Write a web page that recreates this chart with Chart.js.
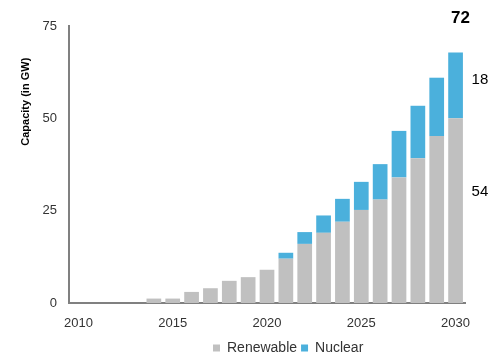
<!DOCTYPE html>
<html lang="en">
<head>
    <meta charset="UTF-8">
    <title>Capacity (in GW)</title>
    <style>
        body {
            margin: 0;
            padding: 0;
            background-color: #fff;
        }

        .chart-container {
            width: 500px;
            height: 360px;
        }
    </style>
    <script src="https://cdn.jsdelivr.net/npm/chart.js"></script>
</head>
<body>

<div class="chart-container">
    <canvas id="capacityChart"></canvas>
</div>

<script>
    // Data
    const years = ['2010', '2011', '2012', '2013', '2014', '2015', '2016', '2017', '2018', '2019', '2020',
                   '2021', '2022', '2023', '2024', '2025', '2026', '2027', '2028', '2029', '2030'];
    const renewable = [0, 0, 0, 0, 1.2, 1.2, 3, 4, 6, 7, 9, 12, 16, 19, 22, 25.2, 28, 34, 39.2, 45.2, 50];
    const nuclear = [0, 0, 0, 0, 0, 0, 0, 0, 0, 0, 0, 1.6, 3.2, 4.7, 6.2, 7.6, 9.6, 12.6, 14.2, 15.8, 17.8];
    const yTicks = [0, 25, 50, 75];

    // Text labels next to the last bar: [text, y value, x offset, bold]
    const endLabels = [
        ['72', 77.2, 5, true],
        ['18', 60.3, 16, false],
        ['54', 30, 16, false]
    ];

    const FONT = '"Liberation Sans", Arial, sans-serif';

    // Draws the y-axis title and the labels beside the 2030 bar
    const extraText = {
        id: 'extraText',
        afterLayout(chart) {
            // legend sits right of centre and a little lower in the reference
            chart.legend.left = 209;
            chart.legend.top += 2;
        },
        afterDraw(chart) {
            const ctx = chart.ctx;
            const x = chart.scales.x;
            const y = chart.scales.y;

            ctx.save();
            ctx.fillStyle = '#000';
            ctx.translate(26, y.getPixelForValue(54.5));
            ctx.rotate(-Math.PI / 2);
            ctx.font = 'bold 11px ' + FONT;
            ctx.textAlign = 'center';
            ctx.textBaseline = 'middle';
            ctx.fillText('Capacity (in GW)', 0, 0);
            ctx.restore();

            const last = x.getPixelForValue(years.length - 1);
            ctx.save();
            ctx.fillStyle = '#000';
            ctx.textBaseline = 'middle';
            endLabels.forEach(([text, v, dx, bold]) => {
                ctx.font = (bold ? 'bold 17px ' : '15px ') + FONT;
                ctx.textAlign = bold ? 'center' : 'left';
                ctx.fillText(text, last + dx, y.getPixelForValue(v));
            });
            ctx.restore();
        }
    };

    const ctx = document.getElementById('capacityChart').getContext('2d');
    const capacityChart = new Chart(ctx, {
        type: 'bar',
        data: {
            labels: years,
            datasets: [
                {
                    label: 'Renewable',
                    data: renewable,
                    backgroundColor: '#c0c0c0',
                    barPercentage: 0.78,
                    categoryPercentage: 1
                },
                {
                    label: 'Nuclear',
                    data: nuclear,
                    backgroundColor: '#4bb0dc',
                    barPercentage: 0.78,
                    categoryPercentage: 1
                }
            ]
        },
        options: {
            responsive: true,
            maintainAspectRatio: false,
            animation: false,
            layout: {
                padding: { top: 26, right: 35, left: 0, bottom: -3 }
            },
            plugins: {
                legend: {
                    position: 'bottom',
                    align: 'start',
                    labels: {
                        usePointStyle: true,
                        pointStyle: 'rect',
                        boxWidth: 7,
                        boxHeight: 7,
                        padding: 4,
                        color: '#333',
                        font: { family: FONT, size: 14 }
                    }
                },
                tooltip: { enabled: false }
            },
            scales: {
                x: {
                    stacked: true,
                    grid: { display: false, drawTicks: false },
                    border: { color: '#808080', width: 2 },
                    ticks: {
                        autoSkip: false,
                        maxRotation: 0,
                        padding: 13,
                        color: '#333',
                        font: { family: FONT, size: 13 }
                    },
                    afterTickToLabelConversion(scale) {
                        scale.ticks.forEach((t, i) => { t.label = i % 5 === 0 ? years[i] : ''; });
                    },
                    afterFit(scale) { scale.height = 32; }
                },
                y: {
                    stacked: true,
                    min: 0,
                    max: 75,
                    grid: { display: false, drawTicks: false },
                    border: { color: '#808080', width: 2 },
                    afterBuildTicks(scale) {
                        scale.ticks = yTicks.map(v => ({ value: v }));
                    },
                    ticks: {
                        padding: 12,
                        color: '#333',
                        font: { family: FONT, size: 13 }
                    },
                    afterFit(scale) { scale.width = 69; }
                }
            }
        },
        plugins: [extraText]
    });
</script>

</body>
</html>
